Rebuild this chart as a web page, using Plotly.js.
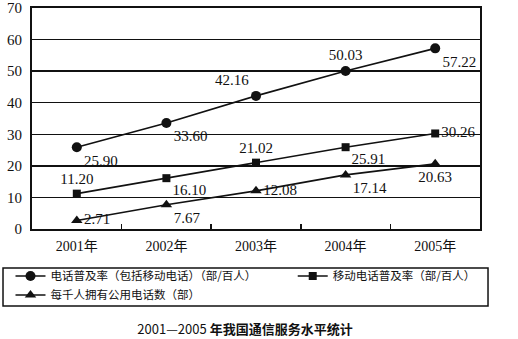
<!DOCTYPE html>
<html>
<head>
<meta charset="utf-8">
<script src="https://cdn.plot.ly/plotly-3.0.1.min.js"></script>
<style>html,body{margin:0;padding:0;background:#fff;}#chart{width:518px;height:339px;}</style>
</head>
<body>
<div id="chart"></div>
<script>
var years = ['2001年', '2002年', '2003年', '2004年', '2005年'];
var phoneRate = [25.90, 33.60, 42.16, 50.03, 57.22];
var mobileRate = [11.20, 16.10, 21.02, 25.91, 30.26];
var publicPhones = [2.71, 7.67, 12.08, 17.14, 20.63];
var seriesNames = ['电话普及率（包括移动电话）（部/百人）', '移动电话普及率（部/百人）', '每千人拥有公用电话数（部）'];
var yTicks = [0, 10, 20, 30, 40, 50, 60, 70];
var chartTitle = '2001—2005 <b>年我国通信服务水平统计</b>';

var serif = '"Liberation Serif", "DejaVu Serif", "Noto Sans CJK SC", serif';
var cjk = '"Noto Sans CJK SC", sans-serif';
var labelFont = {family: serif, size: 15, color: '#111'};

function trace(name, y, symbol, size, pos, legend) {
  return {
    type: 'scatter', mode: 'lines+markers+text', name: name, x: years, y: y,
    line: {color: '#111', width: 1.6},
    marker: {symbol: symbol, size: size, color: '#111'},
    texttemplate: '%{y:.2f}', textposition: pos, textfont: labelFont,
    cliponaxis: false, legend: legend, hoverinfo: 'skip'
  };
}

var data = [
  trace(seriesNames[0], phoneRate, 'circle', 10,
    ['bottom right', 'bottom right', 'top left', 'top center', 'bottom right'], 'legend'),
  trace(seriesNames[1], mobileRate, 'square', 8,
    ['top center', 'bottom right', 'top center', 'bottom right', 'middle right'], 'legend2'),
  trace(seriesNames[2], publicPhones, 'triangle-up', 10,
    ['middle right', 'bottom right', 'middle right', 'bottom right', 'bottom center'], 'legend')
];

var legendFont = {family: cjk, size: 11.5, color: '#111'};
var layout = {
  width: 518, height: 339,
  margin: {l: 32, r: 38, t: 8, b: 110},
  paper_bgcolor: '#fff', plot_bgcolor: '#fff',
  showlegend: true,
  title: {text: chartTitle, font: {family: cjk, size: 13, color: '#111'},
          x: 0.473, xanchor: 'center', y: 0.027, yanchor: 'middle', yref: 'container'},
  xaxis: {
    type: 'category', range: [-0.5, 4.5], tickson: 'boundaries',
    ticks: 'inside', ticklen: 5, tickwidth: 1.5, tickcolor: '#111',
    showgrid: false, showline: true, linecolor: '#111', linewidth: 2, mirror: true,
    tickfont: {family: serif, size: 14, color: '#111'}, ticklabelstandoff: 3
  },
  yaxis: {
    range: [0, 70], tickvals: yTicks, ticks: '',
    showgrid: true, gridcolor: '#111', gridwidth: 1.5,
    showline: true, linecolor: '#111', linewidth: 2, mirror: true, zeroline: false,
    tickfont: {family: serif, size: 15, color: '#111'}, ticklabelstandoff: 5,
    ticklabeloverflow: 'allow'
  },
  legend: {x: -0.048, xanchor: 'left', y: -0.147, yanchor: 'top', orientation: 'v',
           font: legendFont, bgcolor: 'rgba(0,0,0,0)', borderwidth: 0},
  legend2: {x: 0.582, xanchor: 'left', y: -0.147, yanchor: 'top', orientation: 'v',
            font: legendFont, bgcolor: 'rgba(0,0,0,0)', borderwidth: 0},
  shapes: [{type: 'rect', xref: 'paper', yref: 'paper',
            x0: -0.0647, x1: 1.0179, y0: -0.1765, y1: -0.348,
            line: {color: '#111', width: 1.5}}]
};

Plotly.newPlot('chart', data, layout, {displayModeBar: false, staticPlot: true});
</script>
</body>
</html>
